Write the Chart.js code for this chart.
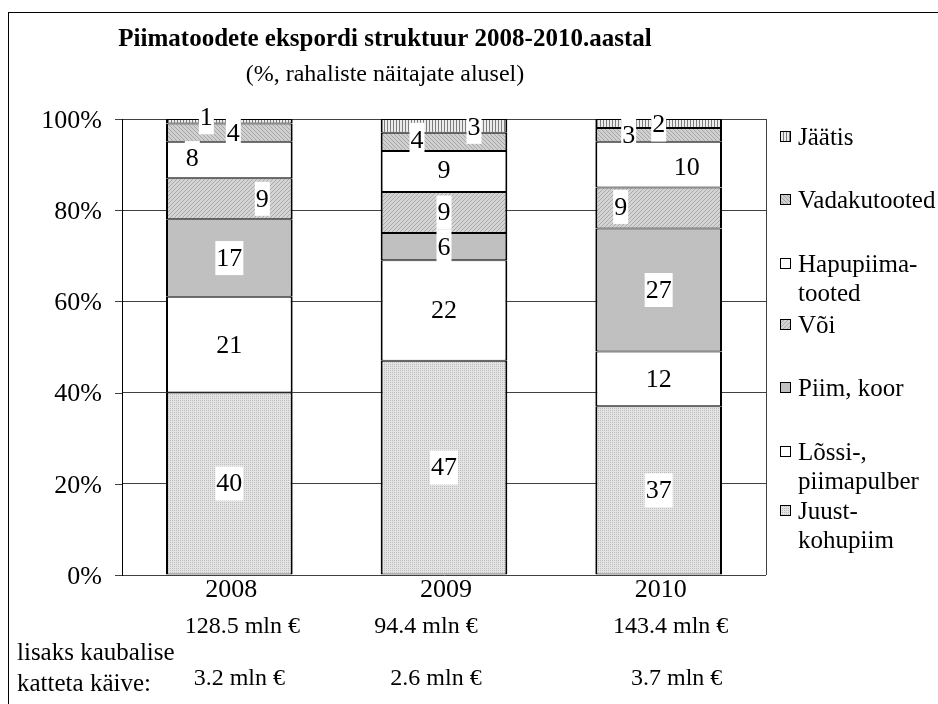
<!DOCTYPE html>
<html>
<head>
<meta charset="utf-8">
<script src="https://cdn.jsdelivr.net/npm/chart.js@4.4.1/dist/chart.umd.min.js"></script>
<style>
  body { margin: 0; background: #fff; }
  canvas { display: block; }
</style>
</head>
<body>
<canvas id="exportChart" width="938" height="704"></canvas>
<script>
// Data (shares of export value, %)
const years = ['2008', '2009', '2010'];
const juust = [40, 47, 37];
const lossi = [21, 22, 12];
const piim = [17, 6, 27];
const voi = [9, 9, 9];
const hapupiim = [8, 9, 10];
const vadak = [4, 4, 3];
const jaatis = [1, 3, 2];
const exportTotals = ['128.5 mln €', '94.4 mln €', '143.4 mln €'];
const tradeTurnover = ['3.2 mln €', '2.6 mln €', '3.7 mln €'];
const yTicks = [0, 20, 40, 60, 80, 100];

const FONT = "'Liberation Serif', 'Times New Roman', serif";

// Fill patterns
function makePattern(w, h, draw) {
    const c = document.createElement('canvas');
    c.width = w;
    c.height = h;
    const g = c.getContext('2d');
    draw(g);
    return g.createPattern(c, 'repeat');
}

const dots = makePattern(2, 2, g => {
    g.fillStyle = '#e4e4e4'; g.fillRect(0, 0, 2, 2);
    g.fillStyle = '#bcbcbc'; g.fillRect(0, 0, 1, 1);
});
const hatchA = makePattern(4, 4, g => {
    g.fillStyle = '#d4d4d4'; g.fillRect(0, 0, 4, 4);
    g.fillStyle = '#aaaaaa';
    for (let i = 0; i < 4; i++) g.fillRect(i, 3 - i, 1, 1);
});
const hatchB = makePattern(4, 4, g => {
    g.fillStyle = '#d0d0d0'; g.fillRect(0, 0, 4, 4);
    g.fillStyle = '#a6a6a6';
    for (let i = 0; i < 4; i++) g.fillRect(i, i, 1, 1);
});
const stripes = makePattern(3, 1, g => {
    g.fillStyle = '#ececec'; g.fillRect(0, 0, 3, 1);
    g.fillStyle = '#7c7c7c'; g.fillRect(0, 0, 1, 1);
});

// label nudges so the boxes don't collide (px)
const series = [
    { name: ['Juust-', 'kohupiim'], data: juust, fill: dots, dx: [0, 0, 0], dy: [0, 0, 0] },
    { name: ['Lõssi-,', 'piimapulber'], data: lossi, fill: '#ffffff', dx: [0, 0, 0], dy: [0, 0, 0] },
    { name: ['Piim, koor'], data: piim, fill: '#c0c0c0', dx: [0, 0, 0], dy: [0, 0, 0] },
    { name: ['Või'], data: voi, fill: hatchA, dx: [33, 0, -38], dy: [0, 0, -1] },
    { name: ['Hapupiima-', 'tooted'], data: hapupiim, fill: '#ffffff', dx: [-37, 0, 28], dy: [-2, -1, 3] },
    { name: ['Vadakutooted'], data: vadak, fill: hatchB, dx: [4, -27, -30], dy: [0, -2, 0] },
    { name: ['Jäätis'], data: jaatis, fill: stripes, dx: [-23, 30, 0], dy: [-4, 1, 1] }
];

const overlay = {
    id: 'overlay',
    beforeDraw(chart) {
        const ctx = chart.ctx;
        ctx.save();
        ctx.fillStyle = '#fff';
        ctx.fillRect(0, 0, chart.width, chart.height);
        ctx.strokeStyle = '#000';
        ctx.lineWidth = 1;
        ctx.strokeRect(8.5, 12.5, chart.width + 20, chart.height + 20);
        ctx.restore();
    },
    beforeDatasetsDraw(chart) {
        const { ctx, chartArea: a, scales: { y } } = chart;
        ctx.save();
        ctx.strokeStyle = '#404040';
        ctx.lineWidth = 1;
        yTicks.forEach(v => {
            const py = Math.round(y.getPixelForValue(v)) + 0.5;
            ctx.beginPath();
            ctx.moveTo(a.left - 7, py);
            ctx.lineTo(a.left, py);
            ctx.stroke();
        });
        ctx.beginPath();
        ctx.moveTo(Math.round(a.right) + 0.5, a.top);
        ctx.lineTo(Math.round(a.right) + 0.5, a.bottom);
        ctx.stroke();
        ctx.restore();
    },
    afterDatasetsDraw(chart) {
        const ctx = chart.ctx;
        ctx.save();
        ctx.font = '26px ' + FONT;
        ctx.textAlign = 'center';
        ctx.textBaseline = 'middle';
        series.forEach((s, di) => {
            const meta = chart.getDatasetMeta(di);
            meta.data.forEach((bar, i) => {
                const txt = String(s.data[i]);
                const cx = bar.x + s.dx[i];
                const cy = (bar.y + bar.base) / 2 + s.dy[i];
                const w = ctx.measureText(txt).width + 2;
                ctx.fillStyle = '#fff';
                ctx.fillRect(cx - w / 2, cy - 17, w, 34);
                ctx.fillStyle = '#000';
                ctx.fillText(txt, cx, cy + 1);
            });
        });
        ctx.restore();
    },
    afterDraw(chart) {
        const { ctx, scales: { x, y } } = chart;
        ctx.save();
        ctx.fillStyle = '#000';
        ctx.textBaseline = 'middle';

        // titles
        ctx.textAlign = 'center';
        ctx.font = 'bold 25px ' + FONT;
        ctx.fillText('Piimatoodete ekspordi struktuur 2008-2010.aastal', 385, 40);
        ctx.font = '24px ' + FONT;
        ctx.fillText('(%, rahaliste näitajate alusel)', 385, 75);

        // y tick labels
        ctx.textAlign = 'right';
        ctx.font = '26px ' + FONT;
        yTicks.forEach(v => ctx.fillText(v + '%', 102, y.getPixelForValue(v) + 2));

        // category labels and totals
        ctx.textAlign = 'center';
        const totShift = [13, -18, 12];
        const turnShift = [10, -8, 18];
        years.forEach((yr, i) => {
            const px = x.getPixelForValue(i);
            ctx.font = '26px ' + FONT;
            ctx.fillText(yr, px + 2, 590);
            ctx.font = '24px ' + FONT;
            ctx.fillText(exportTotals[i], px + totShift[i], 627);
            ctx.fillText(tradeTurnover[i], px + turnShift[i], 679);
        });
        ctx.textAlign = 'left';
        ctx.font = '25px ' + FONT;
        ctx.fillText('lisaks kaubalise', 17, 653);
        ctx.fillText('katteta käive:', 17, 684);

        // legend (top to bottom = stack order reversed)
        ctx.font = '25px ' + FONT;
        const legendY = [137, 200, 264, 325, 388, 452, 511];
        series.slice().reverse().forEach((s, k) => {
            const ly = legendY[k];
            ctx.fillStyle = s.fill;
            ctx.fillRect(780, ly - 6, 11, 11);
            ctx.strokeStyle = '#000';
            ctx.lineWidth = 1;
            ctx.strokeRect(780.5, ly - 5.5, 10, 10);
            ctx.fillStyle = '#000';
            s.name.forEach((line, j) => ctx.fillText(line, 798, ly + 1 + j * 29.5));
        });
        ctx.restore();
    }
};

new Chart(document.getElementById('exportChart'), {
    type: 'bar',
    data: {
        labels: years,
        datasets: series.map(s => ({
            label: s.name.join(''),
            data: s.data,
            backgroundColor: s.fill,
            borderColor: '#000',
            borderWidth: { left: 2, right: 2, top: 1, bottom: 1 },
            borderSkipped: false,
            inflateAmount: 0,
            categoryPercentage: 1,
            barPercentage: 0.59
        }))
    },
    options: {
        responsive: false,
        animation: false,
        layout: {
            padding: { left: 122, right: 172, top: 119, bottom: 129 }
        },
        plugins: {
            legend: { display: false },
            title: { display: false },
            tooltip: { enabled: false }
        },
        scales: {
            x: {
                stacked: true,
                grid: { display: false, drawTicks: false },
                border: { display: false },
                ticks: { display: false }
            },
            y: {
                stacked: true,
                min: 0,
                max: 100,
                ticks: { display: false, stepSize: 20 },
                grid: { color: '#404040', drawTicks: false },
                border: { display: true, color: '#000' }
            }
        }
    },
    plugins: [overlay]
});
</script>
</body>
</html>
